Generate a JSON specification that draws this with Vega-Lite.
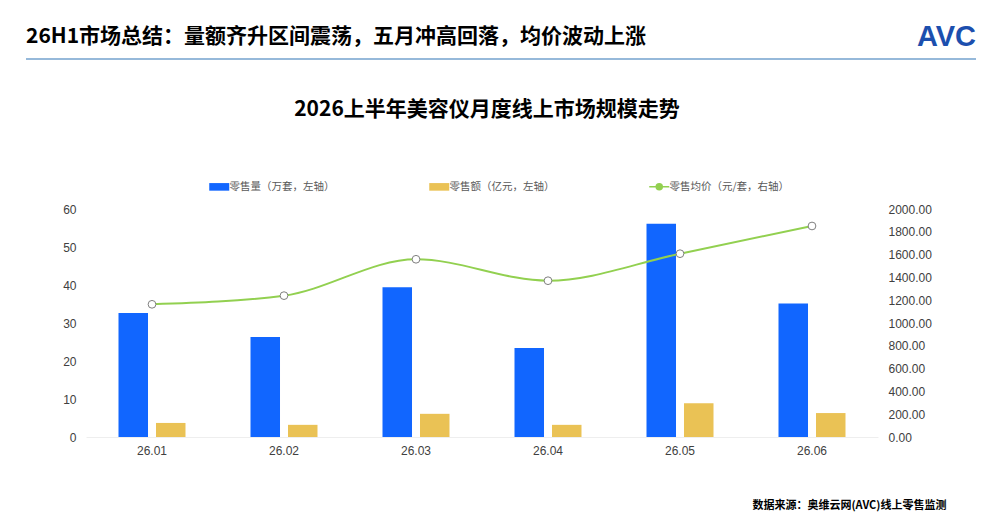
{
  "$schema": "https://vega.github.io/schema/vega-lite/v6.json",
  "background": "white",
  "padding": {"left": 25, "top": 23, "right": 25, "bottom": 8},
  "bounds": "flush",
  "spacing": 150,
  "config": {
    "font": "Noto Sans CJK SC",
    "view": {"stroke": null},
    "axis": {"grid": false, "ticks": false, "domain": false, "labelFont": "Liberation Sans", "labelFontSize": 12, "labelColor": "#404040"}
  },
  "datasets": {
    "bars": [
      {"month": "26.01", "series": "零售量（万套，左轴）", "value": 32.6},
      {"month": "26.01", "series": "零售额（亿元，左轴）", "value": 3.7},
      {"month": "26.02", "series": "零售量（万套，左轴）", "value": 26.3},
      {"month": "26.02", "series": "零售额（亿元，左轴）", "value": 3.2},
      {"month": "26.03", "series": "零售量（万套，左轴）", "value": 39.4},
      {"month": "26.03", "series": "零售额（亿元，左轴）", "value": 6.1},
      {"month": "26.04", "series": "零售量（万套，左轴）", "value": 23.4},
      {"month": "26.04", "series": "零售额（亿元，左轴）", "value": 3.2},
      {"month": "26.05", "series": "零售量（万套，左轴）", "value": 56.1},
      {"month": "26.05", "series": "零售额（亿元，左轴）", "value": 8.9},
      {"month": "26.06", "series": "零售量（万套，左轴）", "value": 35.1},
      {"month": "26.06", "series": "零售额（亿元，左轴）", "value": 6.3}
    ],
    "price": [
      {"month": "26.01", "price": 1164},
      {"month": "26.02", "price": 1240},
      {"month": "26.03", "price": 1559},
      {"month": "26.04", "price": 1371},
      {"month": "26.05", "price": 1608},
      {"month": "26.06", "price": 1851}
    ],
    "header": [
      {"x0": 0, "x1": 1, "y": 0, "logo": "AVC"}
    ]
  },
  "vconcat": [
    {
      "width": 950,
      "height": 2,
      "data": {"name": "header"},
      "title": {
        "text": "26H1市场总结：量额齐升区间震荡，五月冲高回落，均价波动上涨",
        "anchor": "start",
        "frame": "group",
        "fontSize": 21,
        "fontWeight": "bold",
        "color": "#000000",
        "offset": -24
      },
      "layer": [
        {
          "mark": {"type": "rule", "color": "#2e75b6", "strokeWidth": 1.2},
          "encoding": {
            "x": {"field": "x0", "type": "quantitative", "scale": {"domain": [0, 1]}, "axis": null},
            "x2": {"field": "x1"},
            "y": {"field": "y", "type": "quantitative", "scale": {"domain": [0, 1]}, "axis": null}
          }
        },
        {
          "mark": {"type": "text", "align": "right", "baseline": "middle", "font": "Liberation Sans", "fontSize": 29, "fontWeight": "bold", "color": "#1c4fae", "dy": -22},
          "encoding": {
            "x": {"field": "x1", "type": "quantitative", "scale": {"domain": [0, 1]}, "axis": null},
            "y": {"field": "y", "type": "quantitative", "scale": {"domain": [0, 1]}, "axis": null},
            "text": {"field": "logo"}
          }
        }
      ]
    },
    {
      "width": 950,
      "height": 228,
      "title": {
        "text": "2026上半年美容仪月度线上市场规模走势",
        "anchor": "middle",
        "frame": "group",
        "dx": -14,
        "fontSize": 21,
        "fontWeight": "bold",
        "color": "#000000",
        "offset": 83
      },
      "encoding": {
        "x": {
          "field": "month",
          "type": "nominal",
          "title": "数据来源：奥维云网(AVC)线上零售监测",
          "scale": {"range": [60, 852], "paddingInner": 0.4924, "paddingOuter": 0.2462},
          "axis": {
            "labelAngle": 0,
            "labelPadding": 8,
            "domain": true,
            "domainColor": "#eeeeee",
            "titleFont": "Noto Sans CJK SC",
            "titleFontSize": 11,
            "titleFontWeight": "bold",
            "titleColor": "#000000",
            "titleAlign": "right",
            "titleBaseline": "middle",
            "titleX": 920,
            "titleY": 68
          }
        }
      },
      "layer": [
        {
          "data": {"name": "bars"},
          "mark": {"type": "bar"},
          "encoding": {
            "xOffset": {"field": "series", "type": "nominal", "sort": null, "scale": {"paddingInner": 0.213, "paddingOuter": 0}},
            "y": {
              "field": "value",
              "type": "quantitative",
              "scale": {"domain": [0, 60]},
              "axis": {"orient": "left", "offset": -60, "labelPadding": 10, "values": [0, 10, 20, 30, 40, 50, 60], "title": null}
            },
            "color": {
              "field": "series",
              "type": "nominal",
              "scale": {
                "domain": ["零售量（万套，左轴）", "零售额（亿元，左轴）", "零售均价（元/套，右轴）"],
                "range": ["#1166ff", "#eac255", "#92d050"]
              },
              "legend": {
                "title": null,
                "orient": "none",
                "direction": "horizontal",
                "legendX": 188,
                "legendY": 124,
                "columns": 3,
                "gridAlign": "all",
                "columnPadding": 76,
                "labelFont": "Noto Sans CJK SC",
                "labelFontSize": 10.5,
                "labelColor": "#595959",
                "labelOffset": 5,
                "symbolSize": 400,
                "encode": {
                  "symbols": {
                    "update": {
                      "shape": {"signal": "datum.value === '零售均价（元/套，右轴）' ? 'M-1,0H-0.3M0.3,0H1M-0.3,0A0.3,0.3 0 1,0 0.3,0A0.3,0.3 0 1,0 -0.3,0' : 'M-1,-0.38H1V0.38H-1Z'"},
                      "fill": {"signal": "datum.value === '零售均价（元/套，右轴）' ? '#ffffff' : scale('color', datum.value)"},
                      "fillOpacity": {"value": 1},
                      "stroke": {"signal": "datum.value === '零售均价（元/套，右轴）' ? '#92d050' : 'transparent'"},
                      "strokeWidth": {"signal": "datum.value === '零售均价（元/套，右轴）' ? 1.5 : 0"},
                      "opacity": {"value": 1}
                    }
                  }
                }
              }
            }
          }
        },
        {
          "data": {"name": "price"},
          "encoding": {
            "y": {
              "field": "price",
              "type": "quantitative",
              "scale": {"domain": [0, 2000]},
              "axis": {"orient": "right", "offset": -98, "labelPadding": 10, "format": ".2f", "values": [0, 200, 400, 600, 800, 1000, 1200, 1400, 1600, 1800, 2000], "title": null}
            }
          },
          "layer": [
            {
              "mark": {"type": "line", "interpolate": "monotone", "strokeWidth": 2},
              "encoding": {
                "color": {"datum": "零售均价（元/套，右轴）", "type": "nominal", "legend": null}
              }
            },
            {
              "mark": {"type": "point", "filled": true, "fill": "#ffffff", "stroke": "#7f7f7f", "strokeWidth": 1, "size": 60, "opacity": 1}
            }
          ]
        }
      ],
      "resolve": {"scale": {"y": "independent"}}
    }
  ]
}
